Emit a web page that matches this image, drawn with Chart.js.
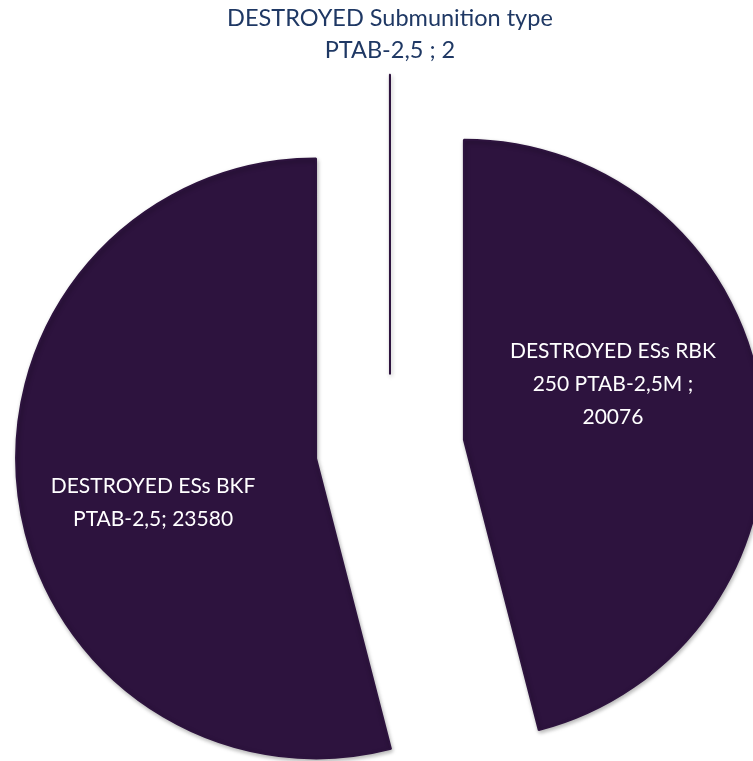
<!DOCTYPE html>
<html lang="en">
<head>
    <meta charset="UTF-8">
    <title>Destroyed submunitions</title>
    <script src="https://cdn.jsdelivr.net/npm/chart.js"></script>
    <style>
        html, body {
            margin: 0;
            padding: 0;
            background: #ffffff;
        }
        canvas {
            display: block;
        }
    </style>
</head>
<body>
<canvas id="pieChart" width="753" height="761"></canvas>
<script>
// Dados do grafico
const categories = [
    'DESTROYED ESs RBK 250 PTAB-2,5M',
    'DESTROYED ESs BKF PTAB-2,5',
    'DESTROYED Submunition type PTAB-2,5'
];
const values = [20076, 23580, 2];
// texto dos rotulos, quebrado como no original
const labelLines = [
    ['DESTROYED ESs RBK', '250 PTAB-2,5M ;', String(values[0])],
    ['DESTROYED ESs BKF', 'PTAB-2,5; ' + values[1]],
    ['DESTROYED Submunition type', 'PTAB-2,5 ; ' + values[2]]
];

const sliceColor = '#2D133E';
const explode = 74.5;  // distancia de explosao de cada fatia
// posicao dos rotulos internos: distancia do vertice e giro em relacao a bissetriz
const labelDist = [159, 169];
const labelTurn = [-0.23, -0.14];

// afasta cada fatia ao longo da sua bissetriz
const explodePlugin = {
    id: 'explode',
    afterDatasetUpdate(chart, args) {
        const meta = chart.getDatasetMeta(args.index);
        meta.data.forEach(arc => {
            const mid = (arc.startAngle + arc.endAngle) / 2;
            arc.x += Math.cos(mid) * explode;
            arc.y += Math.sin(mid) * explode;
        });
    },
    beforeDatasetsDraw(chart) {
        const ctx = chart.ctx;
        ctx.save();
        ctx.shadowColor = 'rgba(0, 0, 0, 0.28)';
        ctx.shadowBlur = 4;
        ctx.shadowOffsetX = 1;
        ctx.shadowOffsetY = 2;
    },
    afterDatasetsDraw(chart) {
        const ctx = chart.ctx;
        ctx.restore();

        const meta = chart.getDatasetMeta(0);
        const total = values.reduce((a, b) => a + b, 0);
        ctx.save();
        ctx.textAlign = 'center';
        ctx.textBaseline = 'middle';
        meta.data.forEach((arc, i) => {
            const lines = labelLines[i];
            const mid = (arc.startAngle + arc.endAngle) / 2;
            if (values[i] / total < 0.01) {
                // rotulo externo acima da fatia minuscula
                ctx.fillStyle = '#1F3864';
                ctx.font = '23.5px Lato';
                const ox = arc.x + Math.cos(mid) * arc.outerRadius;
                const oy = arc.y + Math.sin(mid) * arc.outerRadius;
                lines.forEach((t, k) => {
                    ctx.fillText(t, ox, oy - 24 - (lines.length - 1 - k) * 32);
                });
            } else {
                ctx.fillStyle = '#ffffff';
                ctx.font = '21px Lato';
                const a = mid + labelTurn[i];
                const cx = arc.x + Math.cos(a) * labelDist[i];
                const cy = arc.y + Math.sin(a) * labelDist[i];
                const lh = 33;
                lines.forEach((t, k) => {
                    ctx.fillText(t, cx, cy + (k - (lines.length - 1) / 2) * lh);
                });
            }
        });
        ctx.restore();
    }
};

const ctx = document.getElementById('pieChart').getContext('2d');
const pieChart = new Chart(ctx, {
    type: 'pie',
    data: {
        labels: categories,
        datasets: [{
            data: values,
            backgroundColor: sliceColor,
            borderColor: sliceColor,
            borderWidth: 2,
            radius: 300
        }]
    },
    options: {
        responsive: false,
        animation: false,
        layout: {
            padding: { left: 27, right: 0, top: 137, bottom: 0 }
        },
        plugins: {
            legend: { display: false },
            tooltip: { enabled: false }
        }
    },
    plugins: [explodePlugin]
});
</script>
</body>
</html>
